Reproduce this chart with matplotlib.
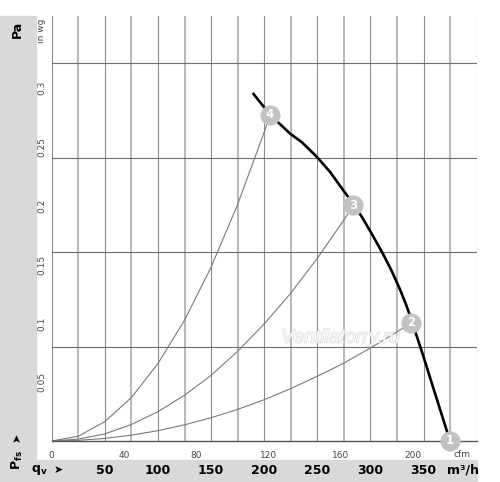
import matplotlib.pyplot as plt
import matplotlib.patheffects as pe

# fan characteristic (m3/h, Pa)
fan_q = [189.2, 205.5, 224.3, 235.3, 249.4, 261.9, 274.4, 283.9, 291.8, 301.2,
         312.1, 320.0, 328.0, 334.0, 338.2, 350.0, 362.0, 374.9]
fan_p = [73.7, 69.1, 65.1, 63.3, 60.2, 57.0, 53.1, 50.2, 47.5, 43.9,
         39.5, 36.0, 32.0, 28.6, 25.9, 17.8, 9.2, 0.0]

# system curves through points 2, 3, 4
sys4_q = [0, 25, 50, 75, 100, 125, 150, 175, 200, 205.5]
sys4_p = [0, 1.0, 4.1, 9.2, 16.4, 25.6, 36.8, 50.1, 65.4, 69.1]
sys3_q = [0, 25, 50, 75, 100, 125, 150, 175, 200, 225, 250, 275, 283.9]
sys3_p = [0, 0.4, 1.5, 3.5, 6.2, 9.7, 13.9, 19.0, 24.8, 31.3, 38.7, 46.8, 49.9]
sys2_q = [0, 25, 50, 75, 100, 125, 150, 175, 200, 225, 250, 275, 300, 325, 338.2]
sys2_p = [0, 0.14, 0.55, 1.23, 2.19, 3.42, 4.92, 6.69, 8.74, 11.1, 13.7, 16.5, 19.7, 23.1, 25.0]

# numbered operating points
pt_labels = ['1', '2', '3', '4']
pt_q = [374.9, 338.2, 283.9, 205.5]
pt_p = [0.0, 25.0, 49.9, 69.1]

pa_ticks = [20, 40, 60, 80]
inwg_ticks = [0.05, 0.1, 0.15, 0.2, 0.25, 0.3]
cfm_ticks = [0, 40, 80, 120, 160, 200]
m3h_ticks = [50, 100, 150, 200, 250, 300, 350]

W, H = 500, 482
fig = plt.figure(figsize=(5, 4.82), dpi=100)
fig.patch.set_facecolor('white')

band = '#d9d9d9'
# gray bands (figure pixel coords -> fraction)
fig.patches.append(plt.Rectangle((0, 1 - 481 / H), 35.5 / W, (481 - 16) / H,
                                 transform=fig.transFigure, color=band, zorder=0))
fig.patches.append(plt.Rectangle((0, 1 - 481 / H), 477 / W, 21 / H,
                                 transform=fig.transFigure, color=band, zorder=0))

x0, x1, y0, y1 = 51.7, 476.7, 441, 16
ax = fig.add_axes([x0 / W, 1 - y0 / H, (x1 - x0) / W, (y0 - y1) / H])
ax.set_xlim(0, 400)
ax.set_ylim(0, 90)
ax.set_facecolor('none')
for s in ['top', 'right', 'left']:
    ax.spines[s].set_visible(False)
ax.spines['bottom'].set_color('#555555')
ax.spines['bottom'].set_linewidth(1.0)
ax.set_xticks([])
ax.set_yticks([])

for q in range(0, 401, 25):
    if q % 50 == 0:
        ax.axvline(q, color='#8c8c8c', lw=0.8, zorder=1)
    else:
        ax.axvline(q, color='#bababa', lw=1.5, zorder=1)
for p in pa_ticks:
    ax.axhline(p, color='#6e6e6e', lw=0.8, zorder=1)

for q, p in [(sys2_q, sys2_p), (sys3_q, sys3_p), (sys4_q, sys4_p)]:
    ax.plot(q, p, color='#7a7a7a', lw=0.8, zorder=2)
ax.plot(fan_q, fan_p, color='black', lw=1.9, zorder=3, solid_capstyle='butt',
        solid_joinstyle='round')

for lab, q, p in zip(pt_labels, pt_q, pt_p):
    ax.plot(q, p, 'o', ms=13.5, color='#c2c2c2', mec='#c2c2c2', zorder=4, clip_on=False)
    ax.text(q, p, lab, ha='center', va='center', color='white', fontsize=8.5,
            fontweight='bold', zorder=5, clip_on=False)

ax.text(0.68, 0.242, 'Ventilatorry.ru', transform=ax.transAxes, ha='center', va='center',
        fontsize=14, style='italic', family='Liberation Sans', color='white', alpha=0.8,
        zorder=2.5, path_effects=[pe.withStroke(linewidth=0.9, foreground='#d2d2d2')])

# cfm scale under the axis
for c in cfm_ticks:
    ax.text(c * 1.699, -2.1, str(c), ha='center', va='top', fontsize=6.5, color='#444444')
ax.text(0.965, -0.022, 'cfm', transform=ax.transAxes, ha='center', va='top',
        fontsize=6.5, color='#444444')

# in wg scale
for v in inwg_ticks:
    ax.text(-0.024, v * 249.09 / 90, f'{v:g}', transform=ax.transAxes, rotation=90,
            ha='center', va='center', fontsize=6.5, color='#444444')
ax.text(-0.024, 0.965, 'in wg', transform=ax.transAxes, rotation=90,
        ha='center', va='center', fontsize=6.5, color='#444444')

# Pa scale in the left band
for p in pa_ticks:
    ax.text(17 / W, 1 - (y0 - p * (y0 - y1) / 90) / H, str(p), transform=fig.transFigure,
            ha='center', va='center', fontsize=9, fontweight='bold')
fig.text(17 / W, 1 - 29 / H, 'Pa', rotation=90, ha='center', va='center',
         fontsize=9, fontweight='bold')
fig.text(17 / W, 1 - 460 / H, r'P$_{\mathbf{fs}}$', rotation=90, ha='center', va='center',
         fontsize=9, fontweight='bold')
fig.text(17 / W, 1 - 437 / H, '➤', rotation=90, ha='center', va='center',
         fontsize=8, family='DejaVu Sans')

# m3/h scale in the bottom band
for q in m3h_ticks:
    fig.text((x0 + q * (x1 - x0) / 400) / W, 1 - 470 / H, str(q), ha='center', va='center',
             fontsize=9, fontweight='bold')
fig.text(463 / W, 1 - 470 / H, 'm³/h', ha='center', va='center', fontsize=9, fontweight='bold')
fig.text(39 / W, 1 - 470 / H, r'q$_{\mathbf{v}}$', ha='center', va='center',
         fontsize=9, fontweight='bold')
fig.text(58 / W, 1 - 470 / H, '➤', ha='center', va='center', fontsize=8, family='DejaVu Sans')

fig.savefig('out.png', dpi=100)
